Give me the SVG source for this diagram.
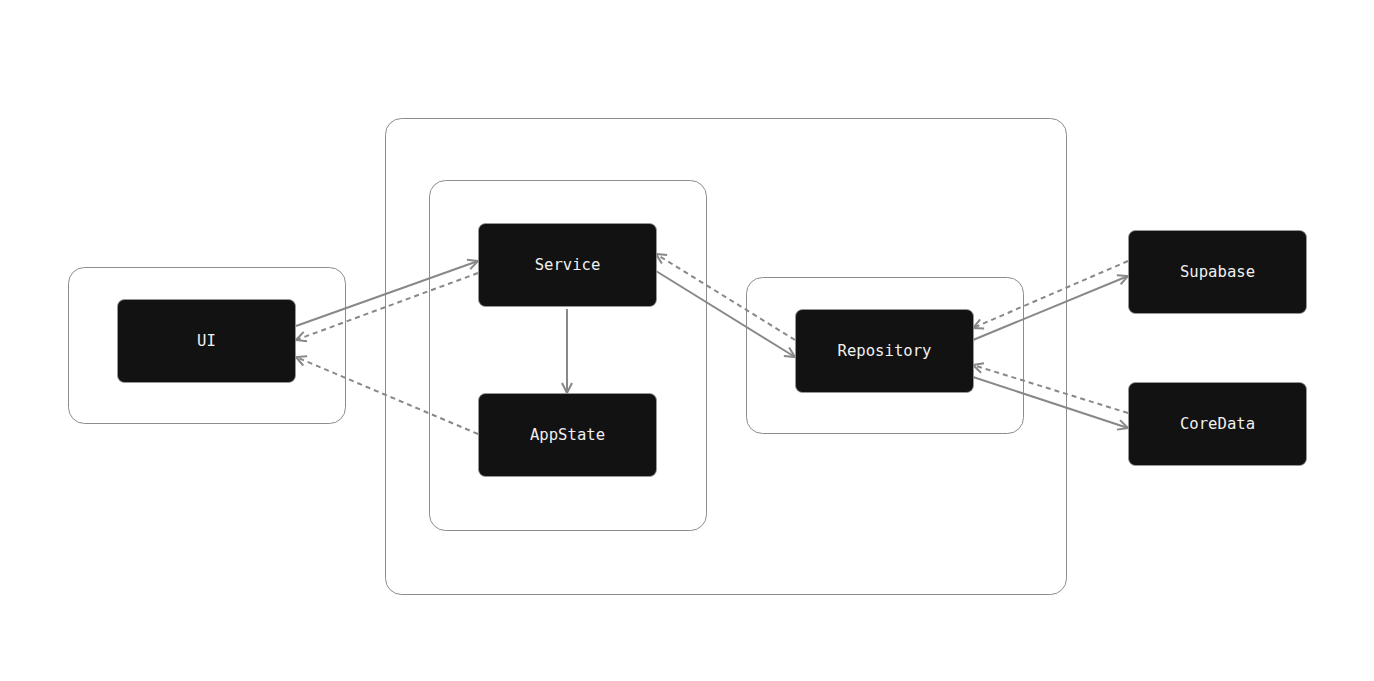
<svg xmlns="http://www.w3.org/2000/svg" width="1374" height="681" viewBox="0 0 1374 681">
<style>
.grp{fill:none;stroke:#8c8c8c;stroke-width:1}
.node rect{fill:#121212;stroke:#9a9a9a;stroke-width:0.8}
.node text{fill:#f0f0f0;font-family:"DejaVu Sans Mono","Liberation Mono",monospace;font-size:15.6px;text-anchor:middle;dominant-baseline:central}
.c{fill:none;stroke:#888;stroke-width:2;marker-end:url(#arr)}
.d{stroke-dasharray:5 4}
</style>
<defs>
<marker id="arr" viewBox="0 0 12 12" refX="11" refY="6" markerWidth="12" markerHeight="12" markerUnits="userSpaceOnUse" orient="auto">
<path d="M1,1 L11,6 L1,11" fill="none" stroke="#888" stroke-width="2"/>
</marker>
</defs>
<rect width="1374" height="681" fill="#fff"/>
<g id="groups">
<rect id="g-outer" class="grp" x="385.5" y="118.5" width="681" height="476" rx="16"/>
<rect id="g-ui" class="grp" x="68.5" y="267.5" width="277" height="156" rx="16"/>
<rect id="g-service" class="grp" x="429.5" y="180.5" width="277" height="350" rx="16"/>
<rect id="g-repo" class="grp" x="746.5" y="277.5" width="277" height="156" rx="16"/>
</g>
<g id="connectors">
<path class="c" d="M296,326 L478,261"/>
<path class="c d" d="M478,273 L296,340"/>
<path class="c d" d="M478,434 L296,357"/>
<path class="c" d="M567,309 L567,393"/>
<path class="c" d="M656,271 L795,357"/>
<path class="c d" d="M795,340 L656,254"/>
<path class="c" d="M973,340 L1128,276"/>
<path class="c d" d="M1128,261 L973,328"/>
<path class="c" d="M973,377 L1128,428"/>
<path class="c d" d="M1128,413 L973,365"/>
</g>
<g id="n-ui" class="node"><rect x="117.5" y="299.5" width="178" height="83" rx="7"/><text x="206.5" y="341">UI</text></g>
<g id="n-service" class="node"><rect x="478.5" y="223.5" width="178" height="83" rx="7"/><text x="567.5" y="265">Service</text></g>
<g id="n-appstate" class="node"><rect x="478.5" y="393.5" width="178" height="83" rx="7"/><text x="567.5" y="435">AppState</text></g>
<g id="n-repository" class="node"><rect x="795.5" y="309.5" width="178" height="83" rx="7"/><text x="884.5" y="351">Repository</text></g>
<g id="n-supabase" class="node"><rect x="1128.5" y="230.5" width="178" height="83" rx="7"/><text x="1217.5" y="272">Supabase</text></g>
<g id="n-coredata" class="node"><rect x="1128.5" y="382.5" width="178" height="83" rx="7"/><text x="1217.5" y="424">CoreData</text></g>
</svg>
